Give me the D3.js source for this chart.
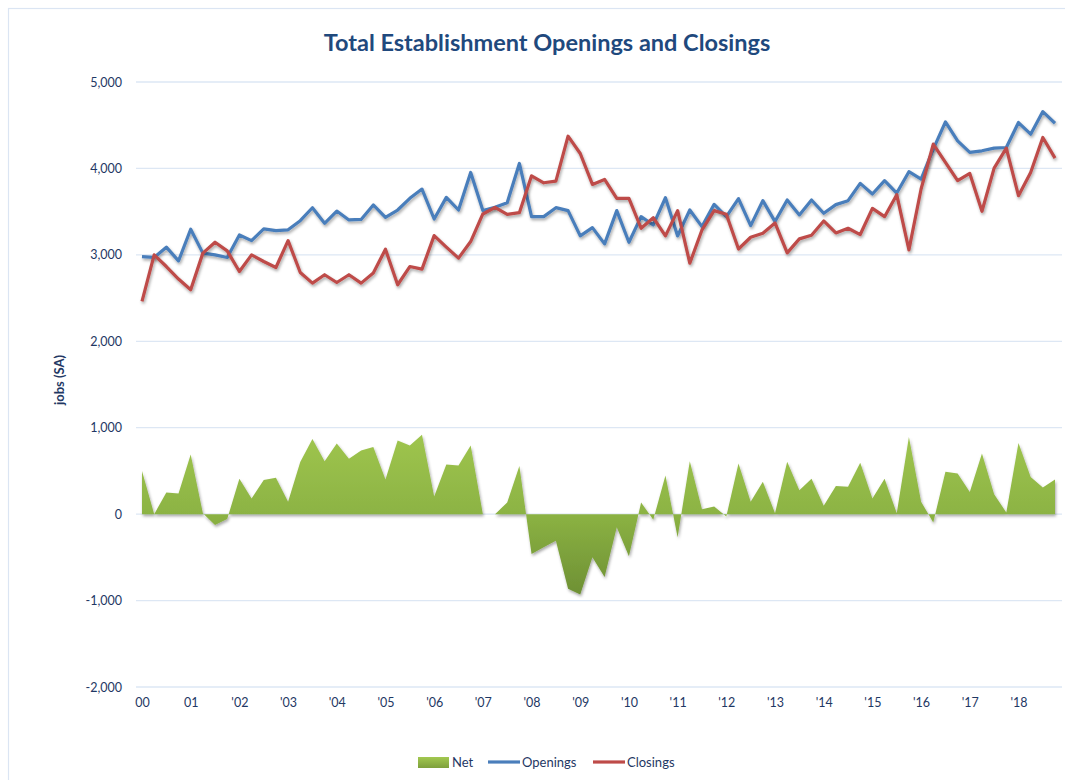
<!DOCTYPE html>
<html><head><meta charset="utf-8">
<script src="https://cdn.jsdelivr.net/npm/d3@7"></script>
<style>body{margin:0;background:#fff}svg{display:block}</style>
</head><body>
<svg id="c" width="1065" height="780"></svg>
<script>
const years = ["00","01","'02","'03","'04","'05","'06","'07","'08","'09","'10","'11","'12","'13","'14","'15","'16","'17","'18"];
const yTicks = [-2000,-1000,0,1000,2000,3000,4000,5000];
const openings = [2980,2970,3089,2930,3296,3020,3000,2970,3230,3165,3300,3280,3290,3395,3545,3365,3507,3404,3410,3577,3435,3519,3654,3761,
  3415,3665,3519,3954,3512,3550,3604,4058,3442,3442,3546,3512,3219,3315,3127,3512,3146,3442,3346,3661,3219,3519,3327,3584,3442,3650,
  3338,3627,3385,3635,3462,3635,3481,3581,3627,3827,3704,3858,3715,3962,3877,4223,4538,4319,4185,4204,4235,4242,4531,4396,4658,4523];
const closings = [2461,3000,2865,2720,2596,3020,3146,3046,2808,3000,2923,2854,3165,2796,2673,2770,2680,2770,2673,2789,3065,2654,2865,2835,
  3223,3090,2962,3154,3473,3550,3469,3488,3915,3834,3853,4373,4173,3815,3873,3654,3654,3308,3430,3219,3512,2904,3288,3512,3469,3068,
  3204,3250,3369,3023,3185,3227,3392,3254,3308,3235,3538,3442,3696,3058,3762,4281,4069,3858,3942,3504,4004,4235,3685,3954,4358,4119];
const net = [498,0,249,238,690,10,-126,-57,410,180,395,421,142,602,870,613,816,640,736,778,402,851,793,920,
  203,575,563,793,0,0,134,556,-460,-383,-307,-862,-931,-498,-728,-153,-487,134,-65,448,-268,613,57,88,-27,586,
  142,375,11,605,276,410,96,326,318,594,180,410,11,893,142,-96,490,471,257,701,230,19,824,429,307,402];

const svg = d3.select("#c");
const font = "Lato, 'Open Sans', sans-serif";
const txt = "#1f3864";
const defs = svg.append("defs");
const g1 = defs.append("linearGradient").attr("id","gNet").attr("gradientUnits","userSpaceOnUse")
  .attr("x1",0).attr("x2",0).attr("y1",420).attr("y2",600);
g1.append("stop").attr("offset","0%").attr("stop-color","#a2c850");
g1.append("stop").attr("offset","50%").attr("stop-color","#8db444");
g1.append("stop").attr("offset","100%").attr("stop-color","#6c8e33");
const g2 = defs.append("linearGradient").attr("id","gLeg").attr("x1",0).attr("x2",0).attr("y1",0).attr("y2",1);
g2.append("stop").attr("offset","0%").attr("stop-color","#a2c850");
g2.append("stop").attr("offset","100%").attr("stop-color","#7ea03c");
const f = defs.append("filter").attr("id","sh").attr("x","-5%").attr("y","-10%").attr("width","110%").attr("height","130%");
f.append("feDropShadow").attr("dx",1).attr("dy",2).attr("stdDeviation",1.4).attr("flood-color","#000").attr("flood-opacity",0.35);

// chart border
svg.append("rect").attr("x",8.5).attr("y",8.5).attr("width",1070).attr("height",800)
  .attr("fill","none").attr("stroke","#dbe5f3").attr("stroke-width",1.2);

const x = d3.scaleLinear().domain([0,75]).range([142,1055]);
const y = d3.scaleLinear().domain([-2000,5000]).range([687,82]);

// gridlines
svg.append("g").selectAll("line").data(yTicks).join("line")
  .attr("x1",136).attr("x2",1062).attr("y1",d=>y(d)).attr("y2",d=>y(d))
  .attr("stroke","#dde7f4").attr("stroke-width",1.3);

// y axis labels
const fmt = d3.format(",");
const yAxis = d3.axisLeft(y).tickValues(yTicks).tickSize(0).tickPadding(0).tickFormat(d=>fmt(d).replace("\u2212","-"));
const ya = svg.append("g").attr("transform","translate(122,0)").call(yAxis);
ya.select(".domain").remove();
ya.selectAll("text").attr("font-family",font).attr("font-size",12.5).attr("fill",txt);

// x axis labels
const xAxis = d3.axisBottom(x).tickValues(years.map((d,i)=>i*4)).tickFormat((d,i)=>years[i]).tickSize(0).tickPadding(0);
const xa = svg.append("g").attr("transform","translate(0,698)").call(xAxis);
xa.select(".domain").remove();
xa.selectAll("text").attr("font-family",font).attr("font-size",12.5).attr("fill",txt);

// net area
const area = d3.area().x((d,i)=>x(i)).y0(y(0)).y1(d=>y(d));
svg.append("path").datum(net).attr("d",area).attr("fill","url(#gNet)").attr("filter","url(#sh)");

// lines
const line = d3.line().x((d,i)=>x(i)).y(d=>y(d));
svg.append("path").datum(openings).attr("d",line).attr("fill","none").attr("stroke","#4a7ebb")
  .attr("stroke-width",3.2).attr("stroke-linejoin","round").attr("filter","url(#sh)");
svg.append("path").datum(closings).attr("d",line).attr("fill","none").attr("stroke","#be4b48")
  .attr("stroke-width",3.2).attr("stroke-linejoin","round").attr("filter","url(#sh)");

// title
svg.append("text").attr("x",547).attr("y",51).attr("text-anchor","middle")
  .attr("font-family",font).attr("font-weight","bold").attr("font-size",23.5).attr("fill","#1f497d")
  .text("Total Establishment Openings and Closings");

// y label
svg.append("text").attr("transform","translate(64,380) rotate(-90)").attr("text-anchor","middle")
  .attr("font-family",font).attr("font-weight","bold").attr("font-size",13).attr("fill",txt).text("jobs (SA)");

// legend
const lg = svg.append("g").attr("font-family",font).attr("font-size",13).attr("fill",txt);
lg.append("rect").attr("x",418).attr("y",757).attr("width",31).attr("height",11).attr("fill","url(#gLeg)");
lg.append("text").attr("x",452).attr("y",767).text("Net");
lg.append("line").attr("x1",488).attr("x2",520).attr("y1",762).attr("y2",762).attr("stroke","#4a7ebb").attr("stroke-width",3.2);
lg.append("text").attr("x",522).attr("y",767).text("Openings");
lg.append("line").attr("x1",593).attr("x2",625).attr("y1",762).attr("y2",762).attr("stroke","#be4b48").attr("stroke-width",3.2);
lg.append("text").attr("x",627).attr("y",767).text("Closings");
</script>
</body></html>
